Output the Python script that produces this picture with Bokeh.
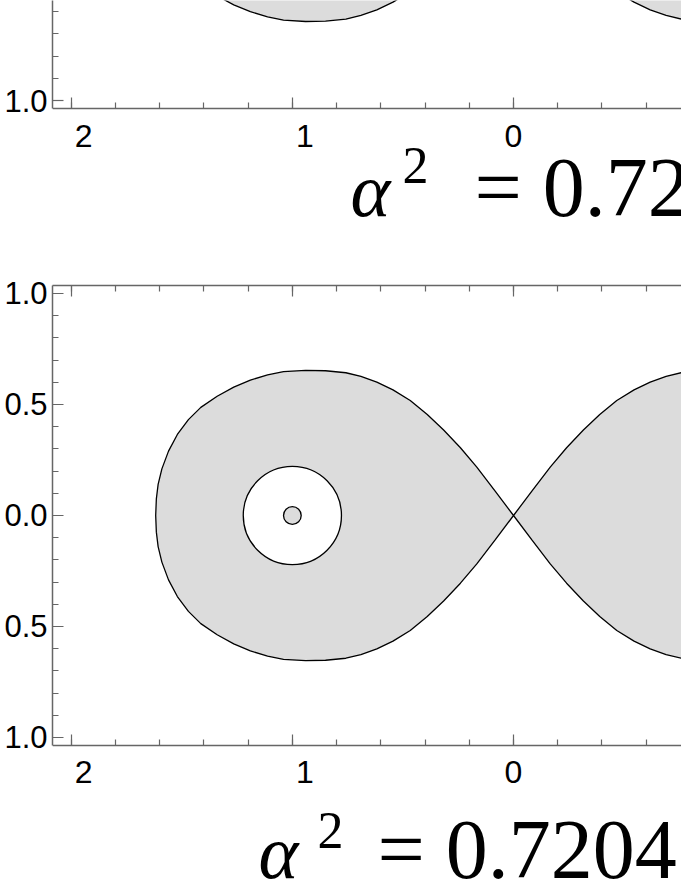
from bokeh.plotting import figure
from bokeh.layouts import column
from bokeh.models import LinearAxis, SingleIntervalTicker, Label, Range1d
from bokeh.embed import file_html
from bokeh.resources import INLINE

# ---------------- data ----------------
# upper half of the left lobe of the separatrix, from the crossing point (0,0) leftwards
lobe_x = [0, -0.083, -0.166, -0.24, -0.316, -0.39, -0.467, -0.545, -0.618, -0.69,
          -0.758, -0.85, -0.94, -1.04, -1.112, -1.19, -1.265, -1.34, -1.414, -1.47,
          -1.52, -1.56, -1.59, -1.607, -1.615, -1.618]
lobe_y_lower_panel = [0, 0.11, 0.218, 0.305, 0.385, 0.455, 0.518, 0.566, 0.601, 0.627,
                      0.643, 0.652, 0.654, 0.648, 0.633, 0.61, 0.578, 0.537, 0.487, 0.432,
                      0.365, 0.29, 0.21, 0.14, 0.075, 0]
lobe_y_upper_panel = [0, 0.108, 0.215, 0.3, 0.379, 0.448, 0.51, 0.557, 0.592, 0.617,
                      0.633, 0.642, 0.644, 0.638, 0.623, 0.6, 0.569, 0.529, 0.48, 0.425,
                      0.36, 0.286, 0.207, 0.138, 0.074, 0]
hole_center = [-1.0, 0.0]
hole_radius = 0.222
dot_radius = 0.04

x_ticks = [-2, -1, 0]
x_tick_labels = ["2", "1", "0"]
y_ticks = [-1.0, -0.5, 0.0, 0.5, 1.0]
y_tick_labels = ["1.0", "0.5", "0.0", "0.5", "1.0"]

title_values = ["0.72", "0.7204"]

# ---------------- styling ----------------
FILL = "#dcdcdc"
AXIS = "#666666"
TICK_FONT = "Liberation Sans"
TITLE_FONT = "Liberation Serif"
X_RANGE = (-2.0846, 0.7596)
AXIS_POS = -1.036


def closed_lobes(xs, ys):
    left_x = list(xs) + list(xs[::-1][1:])
    left_y = list(ys) + [-v for v in ys[::-1][1:]]
    right_x = [-v for v in left_x]
    return [left_x, right_x], [left_y, left_y]


def style_axis(ax, ticker, overrides, size, standoff):
    ax.ticker = ticker
    ax.major_label_overrides = overrides
    ax.axis_line_color = AXIS
    ax.axis_line_width = 1.5
    ax.major_tick_line_color = AXIS
    ax.minor_tick_line_color = AXIS
    ax.major_tick_line_width = 1.2
    ax.minor_tick_line_width = 1.2
    ax.major_tick_in = 11
    ax.major_tick_out = 0
    ax.minor_tick_in = 6
    ax.minor_tick_out = 0
    ax.major_label_text_font = TICK_FONT
    ax.major_label_text_font_size = f"{size}px"
    ax.major_label_text_color = "black"
    ax.major_label_standoff = standoff


pad = "\u2002\u00a0"
x_over = {t: (pad + lab if t < 0 else lab) for t, lab in zip(x_ticks, x_tick_labels)}
y_over = {t: lab for t, lab in zip(y_ticks, y_tick_labels)}


def make_panel(height, y_range, top_border, ys, with_hole, top_axis):
    p = figure(width=681, height=height, output_backend="svg", toolbar_location=None,
               x_range=Range1d(*X_RANGE), y_range=Range1d(*y_range),
               min_border_left=52, min_border_right=0,
               min_border_top=top_border, min_border_bottom=0)
    p.outline_line_color = None
    p.xgrid.grid_line_color = None
    p.ygrid.grid_line_color = None
    p.background_fill_color = "white"
    xa = p.xaxis[0]
    style_axis(xa, SingleIntervalTicker(interval=1, num_minor_ticks=5), x_over, 32, 9)
    xa.fixed_location = AXIS_POS
    ya = p.yaxis[0]
    style_axis(ya, SingleIntervalTicker(interval=0.5, num_minor_ticks=5), y_over, 31, 5)
    ya.bounds = (AXIS_POS, -AXIS_POS)
    if top_axis:
        ax = LinearAxis()
        style_axis(ax, SingleIntervalTicker(interval=1, num_minor_ticks=5), {}, 1, 0)
        ax.major_label_text_alpha = 0
        p.add_layout(ax, "above")

    lx, ly = closed_lobes(lobe_x, ys)
    p.patches(lx, ly, fill_color=FILL, line_color="black", line_width=1.3)
    if with_hole:
        p.circle(x=[hole_center[0]], y=[hole_center[1]], radius=hole_radius,
                 fill_color="white", line_color="black", line_width=1.3)
        p.circle(x=[hole_center[0]], y=[hole_center[1]], radius=dot_radius,
                 fill_color=FILL, line_color="black", line_width=1.3)
    return p


def add_title(p, value_text, ax, ay, sx, sy, ex, ey):
    p.add_layout(Label(x=ax, y=ay, x_units="screen", y_units="screen", text="α",
                       text_font=TITLE_FONT, text_font_style="italic",
                       text_font_size="76px", text_baseline="alphabetic", text_color="black"))
    p.add_layout(Label(x=sx, y=sy, x_units="screen", y_units="screen", text="2",
                       text_font=TITLE_FONT, text_font_size="52px",
                       text_baseline="alphabetic", text_color="black"))
    p.add_layout(Label(x=ex, y=ey, x_units="screen", y_units="screen", text="= " + value_text,
                       text_font=TITLE_FONT, text_font_size="84px",
                       text_baseline="alphabetic", text_color="black"))


# top panel: frame from the page top (y=-0.5495) down to 250 px
top = make_panel(250, (-0.5495 - 250 / 222.0, -0.5495), 0, lobe_y_upper_panel, False, False)
# bottom panel: frame top at 285 px (y=1.036) down to the page bottom
bottom = make_panel(631, (1.036 - 596 / 222.0, 1.036), 35, lobe_y_lower_panel, True, True)

add_title(top, title_values[0], 298, 61, 350, 85, 422, 63)
add_title(bottom, title_values[1], 206, 30, 265, 51, 325, 32)

layout = column(top, bottom, spacing=0)
open("out.html", "w").write(file_html(layout, INLINE))
